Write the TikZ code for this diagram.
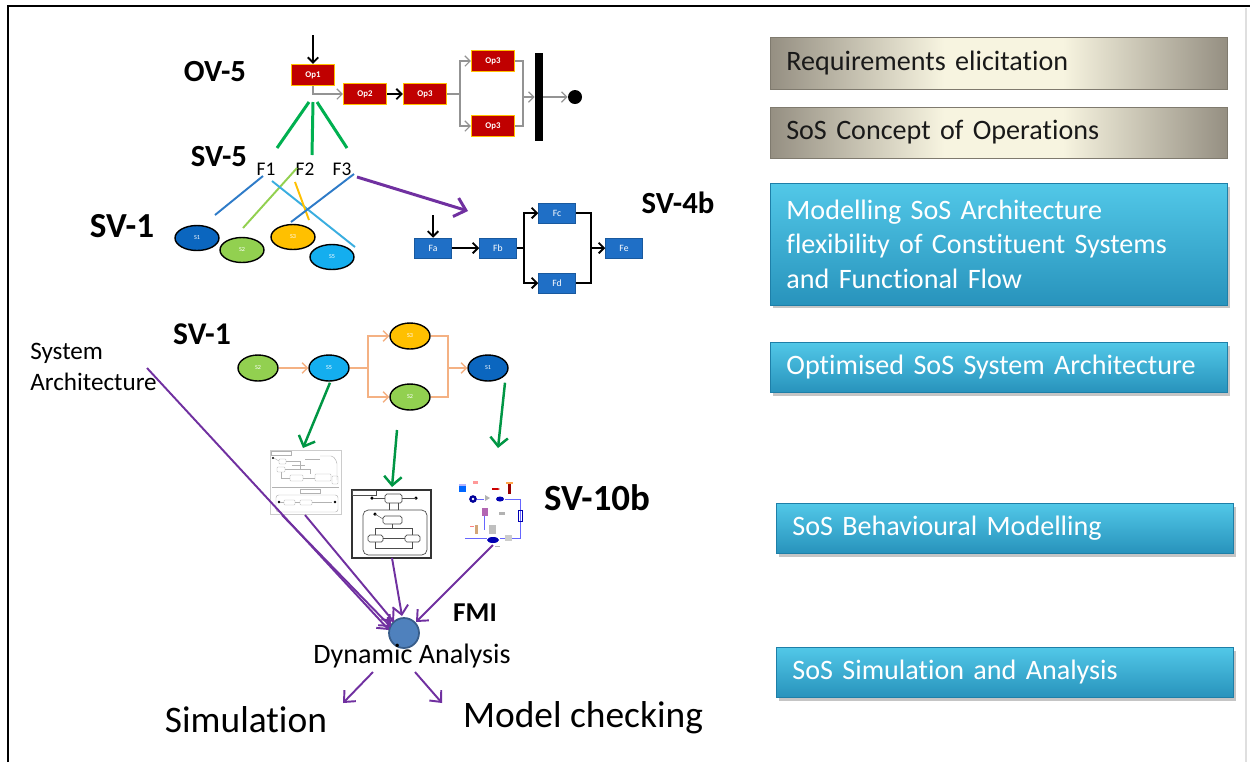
\documentclass[tikz,border=0pt]{standalone}
\usepackage{fontspec}
\setmainfont{Carlito}[Ligatures=NoCommon]
\usetikzlibrary{arrows.meta,shapes.geometric,shadows,calc}

\definecolor{opred}{HTML}{C00000}
\definecolor{opborder}{HTML}{FFC000}
\definecolor{fblue}{HTML}{1F6FC6}
\definecolor{sdark}{HTML}{0B66BF}
\definecolor{sgreen}{HTML}{92D050}
\definecolor{syellow}{HTML}{FFC000}
\definecolor{scyan}{HTML}{14AEEF}
\definecolor{vgreen}{HTML}{00B050}
\definecolor{mblue}{HTML}{2E7BC8}
\definecolor{mcyan}{HTML}{3AAEE0}
\definecolor{vpurple}{HTML}{7030A0}
\definecolor{ocon}{HTML}{F4B183}
\definecolor{fmiblue}{HTML}{4F81BD}
\definecolor{fmiedge}{HTML}{385D8A}
\definecolor{bgedge}{HTML}{958F82}
\definecolor{bgmid}{HTML}{F7F4E0}
\definecolor{btop}{HTML}{52C8E8}
\definecolor{bbot}{HTML}{2893BC}
\definecolor{bedge}{HTML}{1E7FA8}

% beige band, lighter in the middle
\pgfdeclarehorizontalshading{beigeband}{100bp}{color(0bp)=(bgedge); color(25bp)=(bgedge); color(44bp)=(bgmid); color(57bp)=(bgmid); color(75bp)=(bgedge); color(100bp)=(bgedge)}

\tikzset{
  every node/.style={inner sep=0pt},
  lbl/.style={font=\bfseries\fontsize{17.5}{20}\selectfont},
  opbox/.style={rectangle, fill=opred, draw=opborder, line width=0.6pt,
    minimum width=0.86cm, minimum height=0.42cm, text=white,
    font=\bfseries\fontsize{5}{6}\selectfont},
  fbox/.style={rectangle, fill=fblue, draw=fblue!80!black, line width=0.3pt,
    minimum width=0.74cm, minimum height=0.4cm, text=white,
    font=\fontsize{5.5}{6}\selectfont},
  sys/.style={ellipse, draw=black, line width=0.8pt, minimum width=0.88cm,
    minimum height=0.5cm, text=white, font=\fontsize{3.5}{4}\selectfont},
  sysl/.style={sys, minimum width=0.8cm, minimum height=0.52cm},
  barb/.style={-{Straight Barb[length=3pt,width=6pt]}},
  gflow/.style={draw=gray!85, line width=0.7pt},
  kflow/.style={draw=black, line width=1.1pt},
  greenmap/.style={draw=vgreen, line width=1.7pt},
  mapline/.style={line width=1.1pt},
  pflow/.style={draw=vpurple, line width=1.1pt, -{Straight Barb[length=5pt,width=9pt]}},
  gdown/.style={draw=vgreen!85!black, line width=1.4pt, -{Straight Barb[length=5pt,width=10pt]}},
  oflow/.style={draw=ocon, line width=0.8pt},
  graybox/.style={shading=beigeband, draw=bgedge!85!black, line width=0.3pt,
    text width=8.5cm, inner xsep=0.32cm, align=left, anchor=west,
    font=\fontsize{16}{19.6}\selectfont, text=black!90},
  bluebox/.style={top color=btop, bottom color=bbot, draw=bedge, line width=0.5pt,
    drop shadow={opacity=0.45, shadow xshift=0.05cm, shadow yshift=-0.07cm},
    text width=8.5cm, inner xsep=0.32cm, align=left, anchor=west,
    font=\fontsize{16}{19.6}\selectfont, text=white},
  thin/.style={line width=0.25pt},
}

\begin{document}
\begin{tikzpicture}[x=0.02cm, y=-0.02cm]
\useasboundingbox (0,0) rectangle (1250,762);
\fill[white] (0,0) rectangle (1250,762);

% frame
\coordinate (fbl) at (8,762);
\coordinate (ftl) at (8,6);
\coordinate (ftr) at (1250,6);
\coordinate (rtop) at (1246,8);
\coordinate (rbot) at (1246,762);
\draw[gray!25, line width=1pt] (rtop) -- (rbot);
\draw[black, line width=1.5pt] (fbl) -- (ftl) -- (ftr);

% ---------- OV-5 activity flow ----------
\node[lbl] (ov5) at (215,72) {OV-5};
\node[opbox] (op1) at (313,75) {Op1};
\node[opbox] (op2) at (365,94) {Op2};
\node[opbox] (op3a) at (425,94) {Op3};
\node[opbox] (op3b) at (493,61) {Op3};
\node[opbox] (op3c) at (493,126) {Op3};
\node[fill=black, minimum width=0.16cm, minimum height=1.76cm] (bar) at (539,97) {};
\node[circle, fill=black, minimum size=0.28cm] (end) at (575,97) {};
\coordinate (op1in) at (313,35);
\coordinate (fork) at (460,94);
\coordinate (join) at (523,97);
\draw[kflow, barb] (op1in) -- (op1.north);
\draw[gflow, barb] (op1.south) |- (op2.west);
\draw[kflow, barb] (op2.east) -- (op3a.west);
\draw[gflow] (op3a.east) -- (fork);
\draw[gflow, barb] (fork) |- (op3b.west);
\draw[gflow, barb] (fork) |- (op3c.west);
\draw[gflow] (op3b.east) -| (join);
\draw[gflow] (op3c.east) -| (join);
\draw[gflow, barb] (join) -- (bar.west |- join);
\draw[gflow, barb] (bar.east |- end) -- (end.west);

% ---------- SV-5 function mapping ----------
\node[lbl] (sv5) at (219,157) {SV-5};
\coordinate (g1a) at (309,102); \coordinate (g1b) at (277,148);
\coordinate (g2a) at (313,102); \coordinate (g2b) at (312,155);
\coordinate (g3a) at (317,102); \coordinate (g3b) at (347,148);
\draw[greenmap] (g1a) -- (g1b);
\draw[greenmap] (g2a) -- (g2b);
\draw[greenmap] (g3a) -- (g3b);
\node[font=\fontsize{11}{12}\selectfont] (f1) at (266,169) {F1};
\node[font=\fontsize{11}{12}\selectfont] (f2) at (305,169) {F2};
\node[font=\fontsize{11}{12}\selectfont] (f3) at (342,169) {F3};

% ---------- SV-1 constituent systems ----------
\node[lbl, font=\bfseries\fontsize{20}{23}\selectfont] (sv1a) at (122,226) {SV-1};
\coordinate (m1a) at (263,176); \coordinate (m1b) at (215,215);
\coordinate (m2a) at (297,168); \coordinate (m2b) at (243,228);
\coordinate (m3a) at (272,181); \coordinate (m3b) at (355,247);
\coordinate (m4a) at (295,182); \coordinate (m4b) at (309,220);
\coordinate (m5a) at (354,174); \coordinate (m5b) at (291,222);
\draw[mapline, mblue] (m1a) -- (m1b);
\draw[mapline, sgreen] (m2a) -- (m2b);
\draw[mapline, mcyan] (m3a) -- (m3b);
\draw[mapline, syellow] (m4a) -- (m4b);
\draw[mapline, mblue] (m5a) -- (m5b);
\node[sys, fill=sdark] (s1) at (197,238) {S1};
\node[sys, fill=sgreen] (s2) at (242,250) {S2};
\node[sys, fill=syellow] (s3) at (293,237) {S3};
\node[sys, fill=scyan] (s5) at (332,257) {S5};

% mapping to functional flow
\coordinate (pa) at (357,177);
\coordinate (pb) at (468,211);
\draw[vpurple, line width=1.7pt, -{Straight Barb[length=6pt,width=11pt]}] (pa) -- (pb);

% ---------- SV-4b functional flow ----------
\node[lbl] (sv4b) at (678,203) {SV-4b};
\node[fbox] (fa) at (433,248) {Fa};
\node[fbox] (fb) at (498,248) {Fb};
\node[fbox] (fc) at (557,213) {Fc};
\node[fbox] (fd) at (557,283) {Fd};
\node[fbox] (fe) at (624,248) {Fe};
\coordinate (fain) at (433,215);
\coordinate (fsplit) at (524,248);
\coordinate (fjoin) at (591,248);
\draw[kflow, barb] (fain) -- (fa.north);
\draw[kflow, barb] (fa.east) -- (fb.west);
\draw[kflow] (fb.east) -- (fsplit);
\draw[kflow, barb] (fsplit) |- (fc.west);
\draw[kflow, barb] (fsplit) |- (fd.west);
\draw[kflow] (fc.east) -| (fjoin);
\draw[kflow] (fd.east) -| (fjoin);
\draw[kflow, barb] (fjoin) -- (fe.west);

% ---------- optimised SV-1 ----------
\node[lbl, font=\bfseries\fontsize{18}{21}\selectfont] (sv1b) at (202,334) {SV-1};
\node[anchor=north west, align=left, font=\fontsize{14.3}{17.5}\selectfont] (sysarch) at (30,343) {System\\Architecture};
\node[sysl, fill=sgreen] (l2a) at (258,368) {S2};
\node[sysl, fill=scyan] (l5) at (329,368) {S5};
\node[sysl, fill=syellow] (l3) at (410,336) {S3};
\node[sysl, fill=sgreen] (l2b) at (410,397) {S2};
\node[sysl, fill=sdark] (l1) at (488,368) {S1};
\coordinate (lsplit) at (368,368);
\coordinate (ljoin) at (448,368);
\draw[oflow, barb] (l2a.east) -- (l5.west);
\draw[oflow] (l5.east) -- (lsplit);
\draw[oflow, barb] (lsplit) |- (l3.west);
\draw[oflow, barb] (lsplit) |- (l2b.west);
\draw[oflow] (l3.east) -| (ljoin);
\draw[oflow] (l2b.east) -| (ljoin);
\draw[oflow, barb] (ljoin) -- (l1.west);

% ---------- SV-10b behaviour models ----------
\node[lbl, font=\bfseries\fontsize{21}{25}\selectfont] (sv10b) at (597,498) {SV-10b};

% state machine of S5
\node[draw=gray!40, line width=0.3pt, fill=white, minimum width=1.42cm, minimum height=1.28cm] (th1) at (305.5,482) {};
\begin{scope}[gray!60, thin]
  \draw (271,451) rectangle (291,455);
  \fill[black] (273,458) circle (0.7pt);
  \draw[rounded corners=0.5pt] (279,459) rectangle (286,464);
  \draw (274,458) -- (279,461);
  \draw (286,461) -- (300,461) -- (300,470);
  \draw (305,459) -- (320,459);
  \draw[rounded corners=1pt] (320,456) -- (333,456) -- (337,462) -- (337,480);
  \draw[rounded corners=0.5pt] (277,467) rectangle (285,472);
  \draw (281,472) -- (281,478) -- (290,478);
  \draw[rounded corners=0.5pt] (290,475) rectangle (303,481);
  \draw (303,478) -- (315,478);
  \draw[rounded corners=0.5pt] (315,474) rectangle (331,481);
  \draw[rounded corners=0.5pt] (332,476) rectangle (338,484);
  \draw (285,469) -- (310,469) -- (310,474);
  \draw (292,465) -- (305,465);
  \draw (272,487) -- (339,487);
  \draw (300,489) rectangle (320,493);
  \draw[rounded corners=1.5pt] (276,495) rectangle (338,512);
  \fill[black] (279,502) circle (0.8pt);
  \fill[black] (335,502) circle (0.8pt);
  \draw[rounded corners=0.5pt] (284,500) rectangle (295,505);
  \draw[rounded corners=0.5pt] (300,500) rectangle (312,505);
  \draw (316,502) -- (332,502);
  \draw (280,502) -- (284,502);
  \draw (295,502) -- (300,502);
  \draw (312,502) -- (316,502);
\end{scope}

% state machine of S3/S2
\node[draw=black!80, line width=0.6pt, fill=white, minimum width=1.58cm, minimum height=1.36cm] (th2) at (391.5,524) {};
\begin{scope}[black!70, thin]
  \draw (352,490) rectangle (376,495);
  \fill[black] (372,498) circle (1pt);
  \fill[black] (416,498) circle (1pt);
  \draw[rounded corners=1pt, line width=0.4pt] (385,494) rectangle (402,503);
  \draw (373,498) -- (385,498);
  \draw (402,498) -- (416,498);
  \draw (389,503) -- (389,510);
  \draw (398,503) -- (398,510);
  \draw[rounded corners=3pt, line width=0.4pt] (363,510) rectangle (427,555);
  \fill[black] (375,514) circle (1pt);
  \draw (375,514) -- (383,519);
  \draw[rounded corners=1pt, line width=0.4pt] (383,516) rectangle (402,524);
  \draw (392,524) -- (392,528);
  \draw (375,528) -- (412,528);
  \draw (375,528) -- (375,535);
  \draw (412,528) -- (412,535);
  \draw[rounded corners=1pt, line width=0.4pt] (368,535) rectangle (383,542);
  \draw[rounded corners=1pt, line width=0.4pt] (405,535) rectangle (420,542);
  \draw (375,542) -- (375,548) -- (412,548) -- (412,542);
  \draw (383,538) -- (405,538);
\end{scope}

% physical model
\coordinate (th3c) at (490,512);
\node[minimum width=1.3cm, minimum height=1.4cm] (th3) at (th3c) {};
\begin{scope}[thin]
  \draw[blue!60] (505,499) -- (520,499) -- (520,538) -- (500,538);
  \draw[blue!60] (465,538) -- (487,538);
  \draw[blue!60] (477,499) -- (484,499);
  \draw[blue!60] (484,513) -- (484,530);
  \fill[blue!60!cyan] (459,485) rectangle (466,492);
  \fill[blue!30] (459,484) rectangle (466,486);
  \fill[blue!60!black] (473,499) circle (2.2pt);
  \fill[white] (473,499) circle (0.8pt);
  \fill[red!40] (473,481) rectangle (478,484);
  \fill[gray!60] (485,495) -- (490,498) -- (485,501) -- cycle;
  \draw[red!80!black, line width=0.6pt, -{Stealth[length=1.5pt]}] (492,489) -- (500,489);
  \fill[red!60!black] (508,484) rectangle (511,494);
  \fill[orange!70] (506,482) rectangle (513,484);
  \fill[blue!70!black] (500,499) ellipse (4 and 2.5);
  \draw[blue!70!black, line width=0.4pt] (518,510) rectangle (522,521);
  \fill[violet!60] (482,508) rectangle (488,516);
  \fill[gray!60] (499,512) rectangle (505,515);
  \fill[brown!70] (475,525) rectangle (478,534);
  \fill[red!50] (470,526) rectangle (474,527);
  \fill[gray!50] (489,525) rectangle (496,534);
  \fill[blue!70!black] (493,540) ellipse (6 and 3);
  \fill[gray!40] (505,535) rectangle (512,541);
  \fill[gray!60] (495,546) rectangle (500,547);
\end{scope}

% green links from systems to their behaviour models
\coordinate (gd2a) at (397,430); \coordinate (gd2b) at (392,487);
\coordinate (gd1b) at (303,448);
\coordinate (gd3b) at (498,448);
\draw[gdown] ($(l5.south)+(1,1)$) -- (gd1b);
\draw[gdown] (gd2a) -- (gd2b);
\draw[gdown] ($(l1.south)+(17,1)$) -- (gd3b);

% ---------- FMI co-simulation ----------
\node[circle, fill=fmiblue, draw=fmiedge, line width=1pt, minimum size=0.6cm] (fmi) at (404,633) {};
\node[font=\bfseries\fontsize{15.5}{18}\selectfont] (fmilbl) at (475,613) {FMI};
\node[font=\fontsize{16}{19}\selectfont] (dyn) at (412,656) {Dynamic Analysis};
\coordinate (p1a) at (147,368); \coordinate (p1b) at (389,630);
\coordinate (p2a) at (282,515); \coordinate (p2b) at (391,627);
\coordinate (p3a) at (305,515); \coordinate (p3b) at (394,622);
\coordinate (p4a) at (392,558); \coordinate (p4b) at (402,616);
\coordinate (p5a) at (493,545); \coordinate (p5b) at (416,622);
\draw[pflow] (p1a) -- (p1b);
\draw[pflow] (p2a) -- (p2b);
\draw[pflow] (p3a) -- (p3b);
\draw[pflow] (p4a) -- (p4b);
\draw[pflow] (p5a) -- (p5b);

\node[font=\fontsize{21.3}{25}\selectfont] (sim) at (246,720) {Simulation};
\node[font=\fontsize{21.3}{25}\selectfont] (mc) at (583,718) {Model checking};
\coordinate (o1a) at (373,672); \coordinate (o1b) at (343,703);
\coordinate (o2a) at (415,672); \coordinate (o2b) at (442,703);
\draw[pflow] (o1a) -- (o1b);
\draw[pflow] (o2a) -- (o2b);

% ---------- process steps ----------
\node[graybox, minimum height=1.04cm] (req) at (770,63) {Requirements elicitation};
\node[graybox, minimum height=1.02cm] (conops) at (770,132.5) {SoS Concept of Operations};
\node[bluebox, minimum height=2.44cm] (model) at (770,244) {Modelling SoS Architecture\\flexibility of Constituent Systems\\and Functional Flow};
\node[bluebox, minimum height=1.0cm] (optim) at (770,367) {Optimised SoS System Architecture};
\node[bluebox, minimum height=1.0cm] (behav) at (776,528) {SoS Behavioural Modelling};
\node[bluebox, minimum height=1.0cm] (simana) at (776,672) {SoS Simulation and Analysis};
\end{tikzpicture}
\end{document}
